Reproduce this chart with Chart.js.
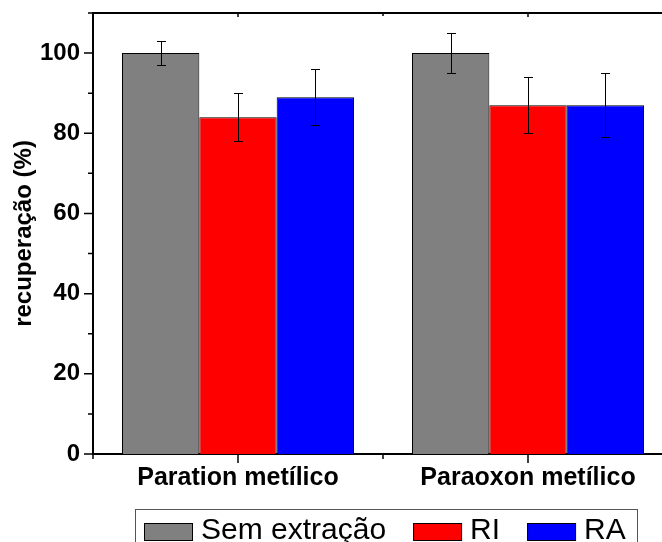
<!DOCTYPE html>
<html>
<head>
<meta charset="utf-8">
<script src="https://cdn.jsdelivr.net/npm/chart.js@4.4.0/dist/chart.umd.min.js"></script>
<style>
html, body { margin: 0; padding: 0; background: #fff; overflow: hidden; }
#caja { width: 680px; height: 542px; }
</style>
</head>
<body>
<div id="caja"><canvas id="grafico"></canvas></div>
<script>
// Datos
const categorias = ['Paration metílico', 'Paraoxon metílico'];
const series = ['Sem extração', 'RI', 'RA'];
const semExtracao = [100, 100];
const ri = [84, 87];
const ra = [89, 87];
const erroSemExtracao = [3, 5];
const erroRI = [6, 7];
const erroRA = [7, 8];
const yMax = 110;
const yEtiquetas = [0, 20, 40, 60, 80, 100];

const cores = ['#808080', '#ff0000', '#0000ff'];
const fonte = "'Liberation Sans', Arial, sans-serif";

const valores = [semExtracao, ri, ra];
const erros = [erroSemExtracao, erroRI, erroRA];

// Barras de error, marco, marcas y leyenda
const extras = {
    id: 'extras',
    afterDatasetsDraw(chart) {
        const ctx = chart.ctx;
        const y = chart.scales.y;
        ctx.save();
        ctx.strokeStyle = '#000';
        ctx.lineWidth = 1;
        chart.data.datasets.forEach((ds, i) => {
            chart.getDatasetMeta(i).data.forEach((bar, j) => {
                const v = ds.data[j];
                const e = erros[i][j];
                const y1 = Math.round(y.getPixelForValue(v + e)) + 0.5;
                const y2 = Math.round(y.getPixelForValue(v - e)) + 0.5;
                const x = Math.round(bar.x) + 0.5;
                ctx.beginPath();
                ctx.moveTo(x, y1); ctx.lineTo(x, y2);
                ctx.moveTo(x - 4.5, y1); ctx.lineTo(x + 4.5, y1);
                ctx.moveTo(x - 4.5, y2); ctx.lineTo(x + 4.5, y2);
                ctx.stroke();
            });
        });
        ctx.restore();
    },
    afterDraw(chart) {
        const ctx = chart.ctx;
        const a = chart.chartArea;
        const x = chart.scales.x;
        const y = chart.scales.y;
        ctx.save();
        ctx.strokeStyle = '#000';
        ctx.lineWidth = 2;
        // marco superior y derecho
        ctx.beginPath();
        ctx.moveTo(a.left - 1, a.top); ctx.lineTo(a.right, a.top); ctx.lineTo(a.right, a.bottom);
        ctx.stroke();

        // marcas eje y
        ctx.lineWidth = 1.5;
        ctx.beginPath();
        for (let v = 0; v <= yMax; v += 10) {
            const py = y.getPixelForValue(v);
            const largo = yEtiquetas.includes(v) ? 9 : 5;
            ctx.moveTo(a.left, py); ctx.lineTo(a.left - largo, py);
        }
        // marcas eje x
        for (let i = 0; i < categorias.length; i++) {
            const px = x.getPixelForValue(i);
            ctx.moveTo(px, a.bottom); ctx.lineTo(px, a.bottom + 9);
            ctx.moveTo(px, a.top); ctx.lineTo(px, a.top + 4);
            const borde = px - (x.getPixelForValue(1) - x.getPixelForValue(0)) / 2;
            ctx.moveTo(borde, a.bottom); ctx.lineTo(borde, a.bottom + 5);
            ctx.moveTo(borde, a.top); ctx.lineTo(borde, a.top + 3);
        }
        ctx.stroke();

        // leyenda
        ctx.lineWidth = 1;
        ctx.strokeStyle = '#555';
        ctx.strokeRect(135.5, 509.5, 502, 60);
        ctx.font = '30px ' + fonte;
        ctx.textBaseline = 'alphabetic';
        ctx.fillStyle = '#000';
        let px = 144;
        chart.data.datasets.forEach(ds => {
            ctx.fillStyle = ds.backgroundColor;
            ctx.fillRect(px, 523, 48, 17);
            ctx.strokeStyle = '#000';
            ctx.strokeRect(px + 0.5, 523.5, 48, 17);
            px += 48 + 9;
            ctx.fillStyle = '#000';
            ctx.fillText(ds.label, px, 539);
            px += ctx.measureText(ds.label).width + 27;
        });
        ctx.restore();
    }
};

const datasets = series.map((nome, i) => ({
    label: nome,
    data: valores[i],
    backgroundColor: cores[i],
    borderColor: '#000',
    borderWidth: 1,
    categoryPercentage: 0.8,
    barPercentage: 1.0
}));

new Chart(document.getElementById('grafico'), {
    type: 'bar',
    data: { labels: categorias, datasets: datasets },
    options: {
        responsive: true,
        maintainAspectRatio: false,
        animation: false,
        layout: { padding: { top: 13, right: 7, bottom: 0, left: 0 } },
        plugins: {
            legend: { display: false },
            tooltip: { enabled: false }
        },
        scales: {
            x: {
                grid: { display: false, drawTicks: false },
                border: { display: true, color: '#000', width: 2 },
                ticks: {
                    color: '#000',
                    padding: 9,
                    font: { family: fonte, size: 25, weight: 'bold' }
                },
                afterFit: s => { s.height = 88; s.paddingLeft = 0; s.paddingRight = 0; }
            },
            y: {
                min: 0,
                max: yMax,
                grid: { display: false, drawTicks: false },
                border: { display: true, color: '#000', width: 2 },
                ticks: {
                    stepSize: 10,
                    color: '#000',
                    padding: 13,
                    font: { family: fonte, size: 24, weight: 'bold' },
                    callback: v => yEtiquetas.includes(v) ? v : ''
                },
                title: {
                    display: true,
                    text: 'recuperação (%)',
                    color: '#000',
                    padding: { top: 10, bottom: 0 },
                    font: { family: fonte, size: 24, weight: 'bold' }
                },
                afterFit: s => { s.width = 93; s.paddingTop = 0; s.paddingBottom = 0; }
            }
        }
    },
    plugins: [extras]
});
</script>
</body>
</html>
